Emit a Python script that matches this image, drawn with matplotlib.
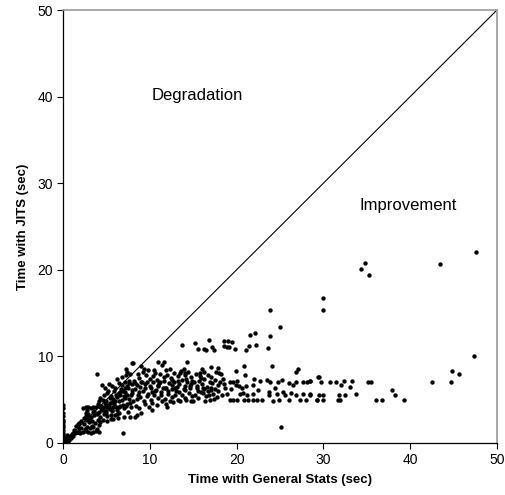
import matplotlib
matplotlib.use("Agg")
import matplotlib.pyplot as plt

plt.rcParams['font.family'] = ['Liberation Sans', 'DejaVu Sans']

# ---- data: (general stats time, JITS time) in seconds ----
# near origin and x=0 column
x_origin = [0.0, 0.0, 0.0, 0.0, 0.0, 0.0, 0.0, 0.0, 0.0, 0.0, 0.0, 0.0, 0.0, 0.05, 0.1, 0.2, 0.3, 0.4, 0.5,
            0.6, 0.7, 0.8, 0.9, 1.0, 1.1, 1.2, 1.4, 0.15, 0.35, 0.55, 0.25, 0.45, 0.65, 1.3, 1.6, 1.8, 1.5, 1.7, 1.9]
y_origin = [0.2, 0.5, 0.9, 1.2, 1.5, 1.8, 2.1, 2.4, 2.7, 3.1, 3.5, 4.0, 4.4, 0.1, 0.3, 0.2, 0.4, 0.6, 0.3,
            0.7, 0.5, 0.8, 0.6, 1.0, 0.8, 1.1, 1.2, 0.0, 0.1, 0.2, 0.6, 0.9, 0.4, 1.5, 1.3, 1.3, 2.0, 2.2, 1.7]

# small queries, low bands (x 1.5 - 6)
x_low = [1.7, 2.0, 2.3, 2.6, 2.9, 3.2, 3.5, 3.8, 4.1,
         2.1, 2.5, 2.8, 3.1, 3.5, 3.9,
         1.8, 2.1, 2.4, 2.7, 3.0, 3.3, 3.7, 4.0, 4.3,
         2.6, 2.9, 3.2, 3.6, 3.9, 4.3, 4.7, 5.1, 5.5,
         2.3, 2.6, 2.9, 3.2, 3.5, 3.8, 4.1, 4.4, 4.7, 5.0, 5.3, 2.8, 3.6, 4.5,
         3.9, 6.9, 5.1, 5.8, 6.3, 4.6, 7.7, 8.3, 6.2,
         2.4, 3.0, 3.4, 4.0, 4.8, 5.6, 2.7, 3.3, 4.2]
y_low = [1.3, 1.2, 1.3, 1.4, 1.3, 1.2, 1.3, 1.4, 1.3,
         1.7, 1.6, 1.9, 1.7, 1.8, 1.6,
         2.3, 2.5, 2.2, 2.6, 2.4, 2.5, 2.3, 2.6, 2.4,
         3.1, 3.3, 3.0, 3.2, 3.4, 3.0, 3.3, 3.1, 3.2,
         4.0, 4.1, 4.2, 4.0, 4.2, 4.1, 4.3, 4.0, 4.2, 4.1, 4.3, 3.8, 3.7, 3.8,
         8.0, 1.2, 2.5, 2.8, 2.9, 2.6, 3.0, 3.0, 3.4,
         2.9, 2.8, 3.6, 3.5, 3.6, 3.7, 3.5, 2.0, 2.1]

# x 4 - 8
x_mid = [4.0, 4.2, 4.4, 4.6, 4.8, 5.0, 5.2, 5.4, 5.6, 5.8, 6.0, 6.2, 6.4, 6.6, 6.8, 7.0, 7.2, 7.4, 7.6, 7.8,
         4.1, 4.5, 4.9, 5.3, 5.7, 6.1, 6.5, 6.9, 7.3, 7.7,
         4.3, 4.7, 5.1, 5.5, 5.9, 6.3, 6.7, 7.1, 7.5, 7.9,
         5.0, 5.4, 5.8, 6.2, 6.6, 7.0, 7.4, 7.8,
         4.8, 5.2, 5.6, 6.0, 6.4, 6.8, 7.2, 7.6,
         5.5, 6.0, 6.5, 7.0, 7.5, 6.2, 6.8, 7.3, 7.7, 5.3, 7.3, 7.4, 8.0, 8.1, 4.5,
         4.4, 4.9, 5.4, 5.9, 6.4, 6.9, 7.4, 7.9, 6.1, 6.6, 7.1, 7.6]
y_mid = [4.5, 4.8, 4.3, 5.0, 4.6, 4.9, 4.4, 5.2, 4.7, 5.1, 4.8, 5.3, 4.9, 5.5, 5.0, 5.4, 5.2, 5.6, 5.1, 5.5,
         3.6, 3.9, 3.7, 4.0, 3.8, 4.1, 4.2, 4.4, 4.3, 4.6,
         5.2, 5.5, 5.8, 5.4, 6.0, 5.7, 6.2, 5.9, 6.3, 6.1,
         3.5, 3.9, 4.1, 3.8, 4.3, 4.0, 4.5, 4.2,
         6.3, 6.0, 6.6, 6.4, 6.9, 6.7, 7.0, 7.2,
         2.8, 3.2, 3.5, 3.0, 3.6, 7.4, 7.6, 7.8, 8.0, 6.8, 8.6, 8.2, 9.2, 9.2, 6.7,
         4.1, 4.4, 4.6, 4.5, 5.8, 6.0, 6.6, 6.8, 5.5, 5.9, 6.4, 6.9]

# x 8 - 15
x_dense = [8.0, 8.3, 8.6, 8.9, 9.2, 9.5, 9.8, 10.1, 10.4, 10.7, 11.0, 11.3, 11.6, 11.9, 12.2, 12.5, 12.8, 13.1,
           13.4, 13.7, 14.0, 14.3, 14.6, 14.9,
           8.1, 8.5, 8.9, 9.3, 9.7, 10.1, 10.5, 10.9, 11.3, 11.7, 12.1, 12.5, 12.9, 13.3, 13.7, 14.1, 14.5, 14.9,
           8.2, 8.7, 9.1, 9.6, 10.0, 10.4, 10.8, 11.2, 11.6, 12.0, 12.4, 12.8, 13.2, 13.6, 14.0, 14.4, 14.8,
           8.4, 8.8, 9.4, 9.9, 10.3, 10.8, 11.4, 11.9, 12.3, 12.7, 13.5, 14.2, 14.7,
           8.5, 9.0, 9.5, 10.0, 10.6, 11.1, 11.8, 12.6, 13.0, 13.9, 14.6,
           9.3, 10.9, 11.6, 11.4, 12.3, 13.7, 13.9, 13.5, 14.1, 14.3, 10.5, 9.0,
           9.0, 10.2, 12.0, 8.5,
           8.3, 8.8, 9.7, 10.2, 10.9, 11.5, 12.1, 12.9, 13.4, 14.0, 14.8,
           8.6, 9.2, 9.8, 10.6, 11.2, 11.9, 12.6, 13.3, 14.2]
y_dense = [5.8, 6.2, 5.5, 6.5, 6.0, 6.8, 5.7, 6.3, 7.0, 6.1, 6.6, 5.9, 7.2, 6.4, 6.9, 6.2, 7.1, 6.5,
           6.8, 7.3, 6.6, 7.0, 6.4, 7.2,
           4.9, 5.1, 5.3, 4.8, 5.4, 5.0, 5.6, 5.2, 5.5, 5.1, 5.7, 5.3, 5.6, 5.0, 5.5, 5.2, 5.8, 5.4,
           7.2, 7.5, 7.0, 7.8, 7.4, 7.7, 7.3, 8.0, 7.6, 7.9, 7.5, 8.1, 7.7, 8.3, 7.9, 8.2, 7.6,
           4.3, 4.0, 4.5, 4.2, 4.6, 4.4, 4.8, 4.5, 4.9, 4.7, 4.9, 5.0, 4.8,
           6.7, 7.0, 6.3, 6.6, 6.0, 6.9, 6.3, 6.7, 6.0, 6.2, 6.6,
           8.6, 9.3, 9.4, 9.0, 8.6, 11.3, 8.6, 8.05, 8.05, 9.4, 8.4, 8.9,
           3.5, 3.8, 4.1, 3.2,
           6.9, 5.9, 7.1, 5.9, 6.7, 6.3, 6.0, 6.4, 5.9, 6.1, 6.8,
           8.0, 8.2, 8.4, 8.1, 7.0, 8.4, 7.3, 7.2, 7.4]

# x 15 - 30
x_wide = [15.1, 15.4, 15.7, 16.0, 16.3, 16.6, 16.9, 17.2, 17.5, 17.8, 15.2, 15.6, 16.1, 16.5, 16.9, 17.3, 17.7,
          15.3, 15.8, 16.2, 16.7, 17.1, 17.6, 15.5, 16.4, 17.0, 17.9, 15.0, 15.9, 16.8, 17.4,
          15.2, 15.6, 16.2, 16.5, 16.8, 17.2, 17.4, 18.5, 18.6, 18.9, 16.0, 15.8, 16.2, 17.1, 17.9, 18.0,
          19.5, 19.0, 19.1, 19.8, 21.1, 21.4, 22.2, 23.6, 21.5, 22.1, 23.8, 20.9, 19.9, 18.2, 21.0,
          24.1, 27.1, 26.9,
          18.1, 18.5, 19.2, 19.6, 19.9, 20.3, 21.1, 21.9, 22.7, 23.5, 23.8, 24.8, 25.2, 26.0, 26.5, 26.9,
          27.6, 28.1, 28.5, 29.5,
          18.3, 18.9, 19.2, 19.6, 20.0, 20.4, 20.7, 20.8, 21.2, 21.3, 21.9, 21.9, 22.3, 22.9, 23.7, 23.7,
          24.2, 24.6, 24.9, 25.4, 25.6, 26.0, 26.3, 26.8, 27.3, 27.7, 28.0, 28.4, 29.3,
          23.8, 25.0, 25.1,
          15.4, 16.1, 16.7, 17.5, 18.7, 19.4, 20.6, 22.5, 24.4, 15.9, 17.0, 18.4, 20.1, 22.0]
y_wide = [7.0, 6.6, 7.2, 6.8, 7.4, 6.5, 7.1, 6.9, 7.3, 6.7, 5.6, 5.2, 5.8, 5.4, 5.0, 5.7, 5.3,
          8.0, 7.7, 6.2, 7.9, 6.1, 8.2, 6.0, 4.9, 6.3, 6.0, 4.8, 5.9, 5.6, 5.1,
          11.5, 10.9, 10.8, 10.7, 11.9, 11.1, 10.7, 11.8, 11.2, 11.05, 8.6, 8.05, 8.2, 8.8, 8.7, 8.05,
          11.7, 11.8, 11.05, 10.9, 10.7, 11.2, 11.3, 11.0, 12.5, 12.7, 12.4, 8.9, 8.35, 8.0, 7.8,
          8.9, 8.6, 8.2,
          7.1, 6.8, 7.1, 7.1, 6.7, 6.6, 6.6, 6.7, 7.2, 7.3, 7.0, 7.1, 7.3, 6.9, 6.7, 7.1,
          7.1, 7.0, 7.2, 7.6,
          5.5, 5.7, 5.0, 5.0, 5.0, 5.7, 5.8, 5.0, 5.5, 5.0, 5.7, 5.0, 5.0, 5.0, 5.9, 5.5,
          4.9, 5.7, 5.0, 5.9, 5.5, 5.0, 5.8, 5.5, 5.0, 5.7, 5.0, 5.7, 5.0,
          15.4, 13.4, 1.9,
          6.3, 6.4, 6.0, 6.2, 6.3, 6.2, 6.4, 6.1, 6.3, 7.5, 7.6, 7.4, 7.2, 7.4]

# x 28 - 48
x_far = [28.5, 29.4, 29.7, 30.8, 31.5, 32.0, 32.4, 33.1, 33.3, 35.1, 35.5,
         28.5, 29.5, 29.9, 29.3, 29.9, 31.8, 31.7, 31.9, 32.5, 33.8, 36.1, 36.8, 37.9, 38.3, 39.3,
         30.0, 30.0, 34.3, 34.8, 35.3, 43.4, 47.6, 47.3, 44.8, 45.6, 44.7, 42.5]
y_far = [7.2, 7.6, 7.1, 7.0, 7.0, 6.7, 7.2, 6.5, 7.2, 7.0, 7.0,
         5.6, 5.6, 5.6, 5.0, 5.0, 5.5, 5.0, 5.0, 5.6, 5.7, 5.0, 5.0, 6.1, 5.5, 5.0,
         16.8, 15.4, 20.1, 20.8, 19.4, 20.7, 22.0, 10.0, 8.3, 8.0, 7.0, 7.0]

ticks = [0, 10, 20, 30, 40, 50]

fig = plt.figure(figsize=(5.06, 4.95), dpi=100)
ax = fig.add_axes([63 / 506, 52 / 495, 434 / 506, 433 / 495])

groups = [(x_origin, y_origin), (x_low, y_low), (x_mid, y_mid),
          (x_dense, y_dense), (x_wide, y_wide), (x_far, y_far)]
for gx, gy in groups:
    ax.scatter(gx, gy, s=10, c='black', linewidths=0, zorder=3)

ax.plot([0, 50], [0, 50], color='black', lw=0.8, zorder=2)

ax.set_xlim(0, 50)
ax.set_ylim(0, 50)
ax.set_xticks(ticks)
ax.set_yticks(ticks)
ax.tick_params(direction='out', length=4, width=0.8, labelsize=10, colors='black', pad=3)

for side in ['left', 'bottom']:
    ax.spines[side].set_color('black')
    ax.spines[side].set_linewidth(0.9)
for side in ['top', 'right']:
    ax.spines[side].set_color('#9a9a9a')
    ax.spines[side].set_linewidth(1.2)

ax.set_xlabel('Time with General Stats (sec)', fontsize=9.5, fontweight='bold', labelpad=5)
ax.set_ylabel('Time with JITS (sec)', fontsize=9.5, fontweight='bold', labelpad=6)

ax.text(10.25, 40.1, 'Degradation', fontsize=12, ha='left', va='center')
ax.text(34.2, 27.4, 'Improvement', fontsize=12, ha='left', va='center')

fig.savefig('out.png', dpi=100)
